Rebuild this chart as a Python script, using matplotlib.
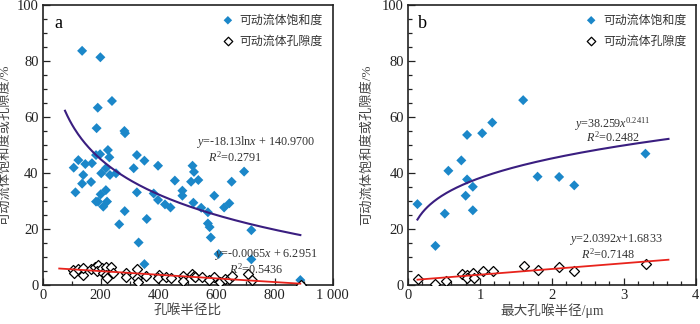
import numpy as np
import matplotlib
matplotlib.use('Agg')
import matplotlib.pyplot as plt
from matplotlib.ticker import MultipleLocator, FuncFormatter

plt.rcParams['font.family'] = ['Liberation Serif', 'Noto Sans CJK SC']
plt.rcParams['mathtext.fontset'] = 'custom'
plt.rcParams['mathtext.rm'] = 'Liberation Serif'
plt.rcParams['mathtext.it'] = 'Liberation Serif:italic'

# panel a: pore-throat radius ratio
a_sat_x = [136, 199, 239, 190, 186, 282, 284, 107, 123, 113, 136, 140, 147, 170, 167,
           184, 198, 191, 184, 200, 202, 209, 218, 218, 222, 225, 230, 232, 253, 264,
           283, 314, 325, 325, 331, 351, 351, 359, 383, 398, 398, 422, 441, 456, 482,
           482, 517, 522, 512, 520, 537, 547, 570, 570, 576, 580, 592, 607, 626, 644,
           652, 695, 720, 720, 889]
a_sat_y = [83.6, 81.3, 65.7, 63.3, 56.0, 55.0, 54.2, 41.9, 44.6, 33.1, 36.2, 39.3, 43.2, 43.5, 36.8,
           46.4, 46.7, 29.8, 29.8, 32.4, 39.9, 28.0, 41.7, 33.9, 29.8, 48.2, 45.6, 39.3, 39.9, 21.7,
           26.4, 41.7, 46.4, 33.1, 15.2, 44.4, 7.5, 23.6, 32.7, 42.6, 30.4, 28.8, 27.7, 37.3, 33.7,
           31.9, 42.6, 40.4, 36.9, 29.4, 37.5, 27.6, 26.0, 22.0, 20.7, 17.0, 31.9, 11.1, 27.7, 29.2,
           36.9, 40.5, 19.6, 9.2, 1.8]
a_por_x = [106, 108, 123, 138, 138, 167, 182, 190, 188, 203, 207, 219, 219, 222, 236,
           241, 288, 288, 324, 324, 330, 357, 402, 399, 425, 443, 483, 483, 515, 522,
           525, 550, 592, 575, 613, 629, 644, 652, 710, 721, 891]
a_por_y = [5.4, 4.2, 5.6, 3.6, 6.0, 5.6, 6.5, 7.1, 5.1, 6.0, 4.2, 6.3, 3.6, 2.4, 6.3,
           4.4, 4.2, 3.0, 5.8, 2.4, 1.2, 3.2, 3.6, 2.4, 3.0, 2.4, 3.2, 1.4, 3.9, 3.3,
           3.0, 3.0, 3.0, 1.8, 1.2, 2.1, 2.1, 3.2, 3.9, 1.8, 0.0]

# panel b: maximum pore-throat radius
b_sat_x = [0.13, 0.38, 0.51, 0.56, 0.74, 0.82, 0.82, 0.80, 0.90, 0.90, 1.03, 1.17, 1.60,
           1.80, 2.10, 2.31, 3.30]
b_sat_y = [28.9, 14.0, 25.5, 40.8, 44.5, 53.6, 37.7, 31.9, 35.1, 26.7, 54.2, 58.0, 66.0,
           38.7, 38.6, 35.6, 46.9]
b_por_x = [0.14, 0.38, 0.52, 0.75, 0.82, 0.82, 0.90, 0.91, 1.04, 1.18, 1.61, 1.81, 2.10,
           2.30, 3.31]
b_por_y = [2.1, 0.5, 1.4, 3.9, 3.6, 2.6, 4.5, 2.4, 5.0, 5.0, 6.9, 5.4, 6.5, 5.0, 7.7]

blue = '#1b87c9'
curve = '#3a1e80'
red = '#e8231c'
lab_sat = '可动流体饱和度'
lab_por = '可动流体孔隙度'
ylab = '可动流体饱和度或孔隙度/%'

fig = plt.figure(figsize=(7, 3.24), dpi=100)
axa = fig.add_axes([0.061, 0.120, 0.414, 0.865])
axb = fig.add_axes([0.583, 0.120, 0.411, 0.865])


def style(ax, ylx):
    ax.tick_params(which='both', direction='in', top=False, right=False,
                   labelsize=10.5, colors='#222222', width=0.9, pad=3)
    ax.tick_params(which='major', length=5)
    ax.tick_params(which='minor', length=3)
    ax.yaxis.set_major_locator(MultipleLocator(20))
    ax.yaxis.set_minor_locator(MultipleLocator(5))
    ax.set_ylim(0, 100)
    for s in ax.spines.values():
        s.set_linewidth(1.2)
        s.set_color('#222222')
    ax.set_ylabel(ylab, fontsize=9.5, color='#444444')
    ax.yaxis.set_label_coords(ylx, 0.5)


def scat(ax, xs, ys, xp, yp):
    ax.scatter(xs, ys, marker='D', s=26, color=blue, edgecolors='none', label=lab_sat, zorder=3)
    ax.scatter(xp, yp, marker='D', s=26, facecolors='white', edgecolors='black',
               linewidths=0.9, label=lab_por, zorder=3)
    leg = ax.legend(loc='upper right', frameon=False, fontsize=8.6, handletextpad=0.0,
                    borderaxespad=0.4, labelspacing=0.75, markerscale=0.85)
    for t in leg.get_texts():
        t.set_color('#333333')


tfs = 8.7

# panel a
style(axa, -0.108)
scat(axa, a_sat_x, a_sat_y, a_por_x, a_por_y)
xx = np.linspace(77, 889, 200)
axa.plot(xx, -18.13 * np.log(xx) + 140.97, color=curve, lw=1.5, zorder=4)
xl = np.array([57, 889])
axa.plot(xl, -0.0065 * xl + 6.2951, color=red, lw=1.3, zorder=4)
axa.set_xlim(0, 1000)
axa.xaxis.set_major_locator(MultipleLocator(200))
axa.xaxis.set_minor_locator(MultipleLocator(100))
axa.xaxis.set_major_formatter(FuncFormatter(lambda v, p: '1 000' if v == 1000 else '%d' % v))
axa.set_xlabel('孔喉半径比', fontsize=9.8, color='#444444', labelpad=1)
axa.text(40, 93.5, 'a', fontsize=13, va='center')
axa.text(529, 51.0, r'$\it{y}$=-18.13ln$\it{x}$ + 140.9700', fontsize=tfs, va='center', color='#333333')
axa.text(569, 45.6, r'$\it{R}^{2}$=0.2791', fontsize=tfs, va='center', color='#333333')
axa.text(592, 10.9, r'$\it{y}$=-0.0065$\it{x}$ + 6.2951', fontsize=tfs, va='center', color='#333333')
axa.text(644, 5.8, r'$\it{R}^{2}$=0.5436', fontsize=tfs, va='center', color='#333333')

# panel b
style(axb, -0.12)
scat(axb, b_sat_x, b_sat_y, b_por_x, b_por_y)
xx = np.linspace(0.13, 3.62, 200)
axb.plot(xx, 38.259 * xx ** 0.2411, color=curve, lw=1.5, zorder=4)
xl = np.array([0.13, 3.62])
axb.plot(xl, 2.0392 * xl + 1.6833, color=red, lw=1.3, zorder=4)
axb.set_xlim(0, 4)
axb.xaxis.set_major_locator(MultipleLocator(1))
axb.xaxis.set_minor_locator(MultipleLocator(0.2))
axb.set_xlabel('最大孔喉半径/μm', fontsize=9.8, color='#444444', labelpad=1)
axb.text(0.14, 93.5, 'b', fontsize=13, va='center')
axb.text(2.30, 57.4, r'$\it{y}$=38.259$\it{x}^{0.2411}$', fontsize=tfs, va='center', color='#333333')
axb.text(2.47, 52.8, r'$\it{R}^{2}$=0.2482', fontsize=tfs, va='center', color='#333333')
axb.text(2.24, 16.3, r'$\it{y}$=2.0392$\it{x}$+1.6833', fontsize=tfs, va='center', color='#333333')
axb.text(2.40, 11.1, r'$\it{R}^{2}$=0.7148', fontsize=tfs, va='center', color='#333333')

fig.savefig('out.png', dpi=100)
